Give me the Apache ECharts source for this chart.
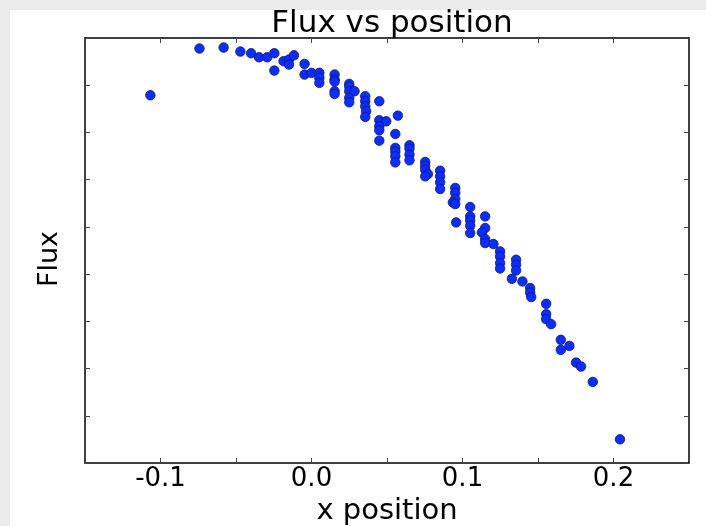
<!DOCTYPE html>
<html>
<head>
<meta charset="utf-8">
<script src="https://cdn.jsdelivr.net/npm/echarts@6/dist/echarts.min.js"></script>
<style>
html,body{margin:0;padding:0;background:#ebebeb;}
#chart{width:706px;height:526px;}
</style>
</head>
<body>
<div id="chart"></div>
<script>
const xPos = [-0.1067,-0.0742,-0.0582,-0.0471,-0.0400,-0.0347,-0.0294,-0.0246,-0.0246,-0.0185,
-0.0149,-0.0149,-0.0116,-0.0046,-0.0046,0.0000,0.0052,0.0052,0.0052,0.0153,
0.0153,0.0153,0.0153,0.0153,0.0250,0.0250,0.0250,0.0285,0.0250,0.0250,
0.0356,0.0356,0.0356,0.0362,0.0356,0.0449,0.0449,0.0495,0.0449,0.0449,
0.0449,0.0572,0.0555,0.0555,0.0555,0.0555,0.0555,0.0649,0.0649,0.0649,
0.0649,0.0753,0.0753,0.0753,0.0771,0.0753,0.0852,0.0852,0.0852,0.0852,
0.0952,0.0952,0.0952,0.0936,0.0952,0.0958,0.1051,0.1051,0.1051,0.1051,
0.1051,0.1150,0.1150,0.1128,0.1150,0.1150,0.1205,0.1249,0.1249,0.1249,
0.1249,0.1355,0.1355,0.1355,0.1327,0.1397,0.1448,0.1448,0.1455,0.1554,
0.1554,0.1554,0.1587,0.1651,0.1651,0.1708,0.1752,0.1785,0.1863,0.2043];
const flux = [7.787,8.777,8.798,8.713,8.677,8.592,8.592,8.677,8.310,8.508,
8.544,8.438,8.635,8.452,8.226,8.262,8.262,8.156,8.050,8.226,
8.120,8.077,7.872,7.816,8.028,7.971,7.872,7.872,7.732,7.638,
7.766,7.660,7.554,7.448,7.329,7.660,7.257,7.236,7.130,7.045,
6.826,7.356,6.968,6.672,6.593,6.494,6.366,6.727,6.657,6.530,
6.409,6.375,6.296,6.212,6.120,6.070,6.190,6.070,5.942,5.802,
5.824,5.718,5.590,5.518,5.484,5.094,5.421,5.222,5.137,5.024,
4.870,5.222,4.976,4.882,4.742,4.658,4.636,4.480,4.374,4.234,
4.119,4.304,4.198,4.077,3.901,3.844,3.704,3.610,3.513,3.371,
3.152,3.046,2.940,2.608,2.396,2.480,2.126,2.042,1.717,0.502];
const xTickLabels = ['-0.1','0.0','0.1','0.2'];
const chartTitle = 'Flux vs position';
const xName = 'x position';
const yName = 'Flux';

const points = xPos.map((x, i) => [x, flux[i]]);
const FONT = 'DejaVu Sans';

function xLabel(v) {
  const k = Math.round(v * 100);
  if (k % 10 !== 0) return '';
  const s = (k / 100).toFixed(1);
  return xTickLabels.indexOf(s) >= 0 ? s : '';
}

const frameLine = {show: true, onZero: false, lineStyle: {color: '#000', width: 1.5}};
const tickStyle = {show: true, inside: true, length: 5, lineStyle: {color: '#444', width: 1}};

const chart = echarts.init(document.getElementById('chart'), null, {renderer: 'canvas'});
chart.setOption({
  backgroundColor: '#ebebeb',
  animation: false,
  graphic: [{
    type: 'rect', z: -10, silent: true,
    shape: {x: 10, y: 10, width: 696, height: 516},
    style: {fill: '#ffffff'}
  }, {
    type: 'text', x: 50, y: 259, rotation: Math.PI / 2, silent: true,
    style: {text: yName, fill: '#000', font: '27px "DejaVu Sans"', align: 'center', verticalAlign: 'middle'}
  }],
  title: {
    text: chartTitle, left: 387, top: 3, textAlign: 'center',
    textStyle: {fontFamily: FONT, fontSize: 31, fontWeight: 'normal', color: '#000'}
  },
  grid: {left: 85, right: 17, top: 38, bottom: 63, outerBoundsMode: 'none', containLabel: false,
    show: true, backgroundColor: '#fff', borderWidth: 0},
  xAxis: [{
    type: 'value', min: -0.15, max: 0.25, interval: 0.05, position: 'bottom',
    axisLine: frameLine, axisTick: tickStyle, splitLine: {show: false},
    axisLabel: {formatter: xLabel, fontFamily: FONT, fontSize: 26, color: '#000', margin: 3},
    name: xName, nameLocation: 'middle', nameGap: 25,
    nameTextStyle: {fontFamily: FONT, fontSize: 29, color: '#000'}
  }, {
    type: 'value', min: -0.15, max: 0.25, interval: 0.05, position: 'top',
    axisLine: frameLine, axisTick: tickStyle, splitLine: {show: false}, axisLabel: {show: false}
  }],
  yAxis: [{
    type: 'value', min: 0, max: 9, interval: 1, position: 'left',
    axisLine: frameLine, axisTick: tickStyle, splitLine: {show: false}, axisLabel: {show: false}
  }, {
    type: 'value', min: 0, max: 9, interval: 1, position: 'right',
    axisLine: frameLine, axisTick: tickStyle, splitLine: {show: false}, axisLabel: {show: false}
  }],
  series: [{
    type: 'scatter', xAxisIndex: 0, yAxisIndex: 0, data: points,
    symbol: 'circle', symbolSize: 9.5,
    itemStyle: {color: '#0a2eff', borderColor: '#151560', borderWidth: 0.8, opacity: 1}
  }]
});
</script>
</body>
</html>
